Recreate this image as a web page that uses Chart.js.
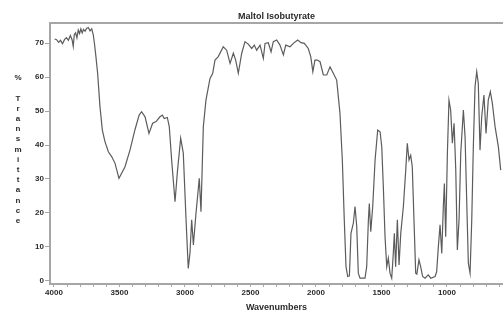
<!DOCTYPE html>
<html>
<head>
<meta charset="utf-8">
<script src="https://cdn.jsdelivr.net/npm/chart.js@4.4.1/dist/chart.umd.min.js"></script>
<style>
  html, body { margin: 0; padding: 0; background: #fff; overflow: hidden; }
  #wrap { width: 503px; height: 316px; }
</style>
</head>
<body>
<div id="wrap"><canvas id="irChart" width="503" height="316"></canvas></div>
<script>
// ==================== DATA ====================
const TITLE = 'Maltol Isobutyrate';
const X_TITLE = 'Wavenumbers';
const Y_TITLE = ['%', '', 'T', 'r', 'a', 'n', 's', 'm', 'i', 't', 't', 'a', 'n', 'c', 'e'];

const X_LABELS = [4000, 3500, 3000, 2500, 2000, 1500, 1000];
const Y_TICKS = [0, 10, 20, 30, 40, 50, 60, 70];

const wavenumbers = [
  3995, 3980, 3965, 3950, 3935, 3920, 3905, 3890, 3875, 3862,
  3853, 3845, 3835, 3825, 3815, 3805, 3795, 3785, 3775, 3763,
  3750, 3738, 3725, 3712, 3700, 3690, 3680, 3667, 3649, 3631,
  3611, 3585, 3560, 3534, 3504, 3458, 3420, 3382, 3350, 3331,
  3305, 3275, 3247, 3221, 3191, 3173, 3158, 3135, 3120, 3102,
  3076, 3059, 3033, 3013, 2992, 2975, 2962, 2949, 2936, 2916,
  2891, 2878, 2860, 2840, 2809, 2789, 2771, 2746, 2708, 2682,
  2656, 2631, 2613, 2593, 2567, 2542, 2517, 2491, 2471, 2453,
  2427, 2402, 2389, 2364, 2343, 2326, 2300, 2275, 2249, 2231,
  2198, 2173, 2140, 2114, 2089, 2059, 2040, 2024, 2008, 1990,
  1969, 1944, 1918, 1893, 1868, 1842, 1817, 1799, 1784, 1771,
  1758, 1745, 1733, 1715, 1702, 1689, 1677, 1664, 1626, 1613,
  1600, 1593, 1582, 1567, 1549, 1529, 1511, 1498, 1486, 1473,
  1460, 1448, 1435, 1422, 1410, 1402, 1392, 1379, 1366, 1353,
  1333, 1315, 1303, 1290, 1277, 1265, 1252, 1239, 1230, 1214,
  1201, 1186, 1168, 1143, 1124, 1091, 1079, 1066, 1053, 1040,
  1028, 1020, 1010, 997, 985, 972, 959, 946, 933, 921,
  908, 895, 875, 862, 849, 837, 824, 811, 799, 786,
  773, 761, 748, 735, 718, 702, 685, 669, 654, 633,
  608, 590
];

const transmittance = [
  71.2, 71.0, 70.2, 70.8, 69.8, 71.0, 71.6, 70.8, 72.2, 71.0,
  69.0, 72.5, 73.0, 71.5, 73.8, 72.8, 74.2, 73.0, 74.0, 73.5,
  74.4, 74.6, 73.6, 74.2, 72.4, 69.5, 66.0, 61.1, 51.3, 44.4,
  41.0, 38.0, 36.6, 34.6, 30.2, 33.6, 38.5, 44.5, 48.8, 49.8,
  48.3, 43.4, 46.4, 46.9, 48.3, 48.8, 47.8, 48.1, 45.4, 35.6,
  23.3, 31.7, 42.0, 37.6, 18.0, 3.7, 8.2, 18.0, 10.6, 19.9,
  30.2, 20.4, 45.4, 53.2, 59.6, 61.0, 65.0, 66.0, 68.9, 67.9,
  64.0, 67.0, 65.0, 61.1, 67.0, 70.4, 69.7, 68.4, 69.4, 67.9,
  69.4, 65.5, 69.9, 70.1, 67.4, 70.4, 70.9, 69.4, 66.5, 69.4,
  68.9, 69.9, 70.9, 70.1, 69.9, 68.4, 66.0, 61.6, 65.0, 65.0,
  64.5, 60.6, 60.6, 63.0, 61.1, 59.1, 49.3, 35.6, 17.9, 4.2,
  1.3, 1.5, 14.0, 17.0, 21.9, 16.0, 2.3, 0.8, 0.8, 4.2,
  18.0, 22.8, 14.5, 21.9, 35.6, 44.4, 43.9, 39.5, 27.7, 13.0,
  4.2, 6.7, 2.3, 0.8, 8.1, 14.0, 4.2, 18.0, 4.7, 14.0,
  21.9, 32.6, 40.5, 35.6, 37.0, 33.6, 17.9, 2.3, 2.0, 6.2,
  4.2, 1.3, 0.8, 1.8, 0.8, 1.3, 2.7, 10.1, 16.5, 8.1,
  21.9, 28.7, 13.0, 37.6, 53.2, 50.3, 40.5, 46.4, 32.6, 9.1,
  18.0, 37.6, 50.3, 42.4, 22.8, 5.2, 2.3, 18.0, 39.5, 57.2,
  61.6, 58.1, 38.5, 48.3, 54.7, 43.4, 53.2, 55.7, 52.3, 45.4,
  39.5, 32.6
];

// ==================== CHART ====================
const FRAME = '#a6a6a6';
const TEXT = '#2b2b2b';
const FONT = 'Liberation Sans';

const framePlugin = {
  id: 'frame',
  afterDraw(chart) {
    const { ctx, chartArea: a } = chart;
    ctx.save();
    // top frame line
    ctx.strokeStyle = FRAME;
    ctx.lineWidth = 2;
    ctx.beginPath();
    ctx.moveTo(a.left - 1, a.top);
    ctx.lineTo(a.right, a.top);
    ctx.stroke();
    // title
    ctx.fillStyle = TEXT;
    ctx.font = 'bold 9px "' + FONT + '"';
    ctx.textAlign = 'center';
    ctx.textBaseline = 'middle';
    ctx.fillText(TITLE, (a.left + a.right) / 2, 17);
    // stacked y label
    ctx.font = 'bold 8px "' + FONT + '"';
    Y_TITLE.forEach((ch, i) => {
      if (ch) ctx.fillText(ch, 18, 78 + i * 10.2);
    });
    ctx.restore();
  }
};

new Chart(document.getElementById('irChart'), {
  type: 'line',
  data: {
    datasets: [{
      data: wavenumbers.map((w, i) => ({ x: w, y: transmittance[i] })),
      borderColor: '#5c5c5c',
      borderWidth: 1.2,
      pointRadius: 0,
      tension: 0,
      fill: false
    }]
  },
  options: {
    responsive: false,
    animation: false,
    layout: { padding: { top: 23, right: 0, left: 0, bottom: 0 } },
    plugins: {
      legend: { display: false },
      tooltip: { enabled: false }
    },
    scales: {
      x: {
        type: 'linear',
        reverse: true,
        min: 572.5,
        max: 4030.5,
        afterFit: (s) => { s.height = 32; },
        afterBuildTicks: (s) => {
          const t = [];
          for (let v = 4000; v >= 600; v -= 100) t.push({ value: v });
          s.ticks = t;
        },
        border: { color: FRAME, width: 2 },
        grid: { drawOnChartArea: false, color: FRAME, tickLength: 3, tickWidth: 1 },
        ticks: {
          autoSkip: false,
          maxRotation: 0,
          padding: 1,
          color: TEXT,
          font: { family: FONT, size: 8, weight: 'bold' },
          callback: (v) => X_LABELS.includes(v) ? String(v) : ''
        },
        title: {
          display: true,
          text: X_TITLE,
          color: TEXT,
          font: { family: FONT, size: 9, weight: 'bold' },
          padding: { top: 0, bottom: 3 }
        }
      },
      y: {
        min: -0.9,
        max: 75.9,
        afterFit: (s) => { s.width = 50; },
        afterBuildTicks: (s) => { s.ticks = Y_TICKS.map(v => ({ value: v })); },
        border: { color: FRAME, width: 2 },
        grid: { drawOnChartArea: false, color: FRAME, tickLength: 5, tickWidth: 1 },
        ticks: {
          padding: 1,
          color: TEXT,
          font: { family: FONT, size: 8, weight: 'bold' }
        }
      }
    }
  },
  plugins: [framePlugin]
});
</script>
</body>
</html>
